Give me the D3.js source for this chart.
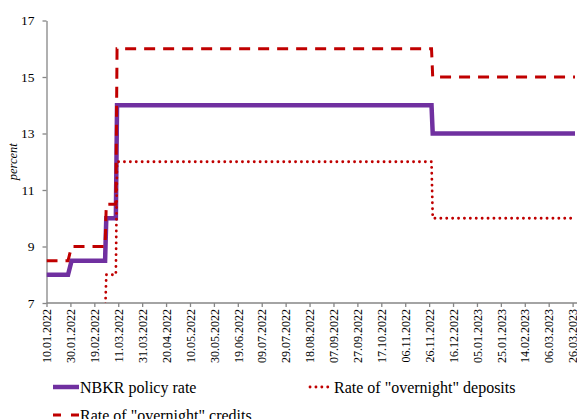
<!DOCTYPE html>
<html>
<head>
<meta charset="utf-8">
<script src="https://cdn.jsdelivr.net/npm/d3@7"></script>
<style>
  body { margin: 0; background: #fff; }
  svg { display: block; font-family: "Liberation Serif", "Times New Roman", serif; }
</style>
</head>
<body>
<div id="chart"></div>
<script>
// Datos (días hábiles: los escalones inclinados cruzan fines de semana)
const dates = ["10.01.2022", "28.01.2022", "31.01.2022", "28.02.2022", "01.03.2022",
  "09.03.2022", "10.03.2022", "28.11.2022", "29.11.2022", "28.03.2023"];
const policyRate = [8, 8, 8.5, 8.5, 10, 10, 14, 14, 13, 13];
const depositRate = [6, 6, 6.5, 6.5, 8, 8, 12, 12, 10, 10];
const creditRate = [8.5, 8.5, 9, 9, 10.5, 10.5, 16, 16, 15, 15];

const xTickLabels = ["10.01.2022", "30.01.2022", "19.02.2022", "11.03.2022", "31.03.2022",
  "20.04.2022", "10.05.2022", "30.05.2022", "19.06.2022", "09.07.2022", "29.07.2022",
  "18.08.2022", "07.09.2022", "27.09.2022", "17.10.2022", "06.11.2022", "26.11.2022",
  "16.12.2022", "05.01.2023", "25.01.2023", "14.02.2023", "06.03.2023", "26.03.2023"];
const yTicks = [7, 9, 11, 13, 15, 17];

const seriesNames = ["NBKR policy rate", "Rate of \"overnight\" deposits", "Rate of \"overnight\" credits"];

// Dimensiones
const width = 577, height = 419;
const plotLeft = 46.5, plotRight = 575, plotTop = 20.5, plotBottom = 303;
const axisColor = "#868686";

const parse = d3.utcParse("%d.%m.%Y");

const x = d3.scaleUtc()
  .domain([parse("10.01.2022"), parse("28.03.2023")])
  .range([plotLeft, plotRight]);

const y = d3.scaleLinear().domain([7, 17]).range([plotBottom, plotTop]);

const svg = d3.select("#chart").append("svg")
  .attr("width", width)
  .attr("height", height);

svg.append("defs").append("clipPath").attr("id", "plot")
  .append("rect")
  .attr("x", plotLeft).attr("y", plotTop - 5)
  .attr("width", width - plotLeft).attr("height", plotBottom - plotTop + 5);

// Eje Y
const yAxis = svg.append("g")
  .attr("transform", `translate(${plotLeft},0)`)
  .call(d3.axisLeft(y).tickValues(yTicks).tickSize(4).tickSizeOuter(0).tickPadding(8));
yAxis.select(".domain").attr("stroke", axisColor).attr("stroke-width", 1.3);
yAxis.selectAll(".tick line").attr("stroke", axisColor).attr("stroke-width", 1.3);
yAxis.selectAll(".tick text")
  .attr("font-family", "Liberation Serif, serif")
  .attr("font-size", 13.5)
  .attr("fill", "#000");

svg.append("text")
  .attr("transform", `translate(17,${(plotTop + plotBottom) / 2}) rotate(-90)`)
  .attr("text-anchor", "middle")
  .attr("font-style", "italic")
  .attr("font-size", 12.5)
  .text("percent");

// Eje X
const xAxis = svg.append("g")
  .attr("transform", `translate(0,${plotBottom})`)
  .call(d3.axisBottom(x)
    .tickValues(xTickLabels.map(parse))
    .tickFormat(d3.utcFormat("%d.%m.%Y"))
    .tickSize(4)
    .tickSizeOuter(0));
xAxis.select(".domain").remove();
xAxis.append("line")
  .attr("x1", plotLeft).attr("x2", width)
  .attr("stroke", axisColor).attr("stroke-width", 1.3);
xAxis.selectAll(".tick line").attr("stroke", axisColor).attr("stroke-width", 1.3);
xAxis.selectAll(".tick text")
  .attr("font-family", "Liberation Serif, serif")
  .attr("font-size", 12)
  .attr("fill", "#000")
  .attr("transform", "rotate(-90)")
  .attr("text-anchor", "end")
  .attr("x", -6)
  .attr("y", 0)
  .attr("dy", "0.35em");

// Series
const styles = [
  { color: "#7030A0", width: 4.5, dash: null, cap: "butt" },
  { color: "#C00000", width: 2.8, dash: "0.1 5.8", cap: "round" },
  { color: "#C00000", width: 3, dash: "11 8", cap: "butt" }
];
const values = [policyRate, depositRate, creditRate];

const line = d3.line()
  .x(d => x(d[0]))
  .y(d => y(d[1]));

const plot = svg.append("g").attr("clip-path", "url(#plot)");
values.forEach((vals, i) => {
  const pts = dates.map((d, j) => [parse(d), vals[j]]);
  plot.append("path")
    .datum(pts)
    .attr("fill", "none")
    .attr("stroke", styles[i].color)
    .attr("stroke-width", styles[i].width)
    .attr("stroke-dasharray", styles[i].dash)
    .attr("stroke-linecap", styles[i].cap)
    .attr("stroke-linejoin", "miter")
    .attr("d", line);
});

// Leyenda
const legendPos = [
  { x: 53, y: 387 },
  { x: 310, y: 387 },
  { x: 53, y: 415 }
];
const legendLen = [26, 19, 26];
const legendDash = [null, "0.1 5.8", "8 10"];

const legend = svg.append("g")
  .selectAll("g")
  .data(seriesNames)
  .join("g")
  .attr("transform", (d, i) => `translate(${legendPos[i].x},${legendPos[i].y})`);

legend.append("line")
  .attr("x1", 0)
  .attr("x2", (d, i) => legendLen[i])
  .attr("stroke", (d, i) => styles[i].color)
  .attr("stroke-width", (d, i) => styles[i].width)
  .attr("stroke-dasharray", (d, i) => legendDash[i])
  .attr("stroke-linecap", (d, i) => styles[i].cap);

legend.append("text")
  .attr("x", (d, i) => legendLen[i] + (i === 1 ? 5 : 1))
  .attr("y", 5.5)
  .attr("font-size", 16)
  .text(d => d);
</script>
</body>
</html>
